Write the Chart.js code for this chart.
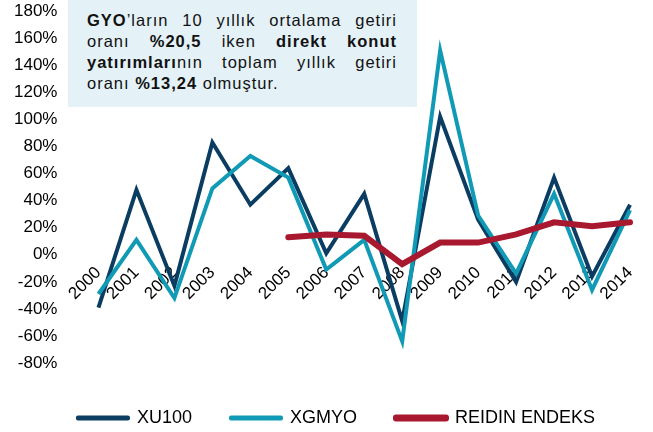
<!DOCTYPE html>
<html>
<head>
<meta charset="utf-8">
<script src="https://cdn.jsdelivr.net/npm/chart.js@4"></script>
<style>
  html, body { margin: 0; padding: 0; background: #fff; }
  #wrap { position: relative; width: 653px; height: 432px; overflow: hidden; }
  #box { position: absolute; left: 0; top: -13px; width: 653px; height: 445px; }
  #note {
    position: absolute; left: 68px; top: 0; width: 349px; height: 107px;
    box-sizing: border-box; padding: 10px 20px 0 19px;
    background: #e4f1f7; color: #111;
    font-family: "Liberation Sans", Arial, sans-serif; font-size: 16.5px; line-height: 21px;
    letter-spacing: 1px;
  }
  #note div { white-space: nowrap; }
  #note .j { text-align: justify; text-align-last: justify; }
</style>
</head>
<body>
<div id="wrap">
  <div id="box"><canvas id="gyoChart"></canvas></div>
  <div id="note">
    <div class="j"><b>GYO</b>’ların 10 yıllık ortalama getiri</div>
    <div class="j">oranı <b>%20,5</b> iken <b>direkt konut</b></div>
    <div class="j"><b>yatırımları</b>nın toplam yıllık getiri</div>
    <div>oranı <b>%13,24</b> olmuştur.</div>
  </div>
</div>
<script>
const years = ['2000', '2001', '2002', '2003', '2004', '2005', '2006', '2007',
    '2008', '2009', '2010', '2011', '2012', '2013', '2014'];
const xu100 = [-39, 48, -23, 83, 37, 64, 1, 45, -49, 102, 26, -20, 57, -16, 37];
const xgmyo = [-29, 11, -32, 49, 73, 57, -11, 11, -64, 151, 29, -14, 45, -26, 33];
const reidin = [null, null, null, null, null, 13, 15, 14, -7, 9, 9, 15, 24, 21, 24];

// move the bottom legend a bit (it sits off centre and low in the original)
const legendShift = {
    id: 'legendShift',
    afterLayout(chart) {
        const lg = chart.legend;
        lg.left += 12; lg.right += 12;
        lg.top += 7; lg.bottom += 7;
    }
};

const ctx = document.getElementById('gyoChart').getContext('2d');

new Chart(ctx, {
    type: 'line',
    data: {
        labels: years,
        datasets: [{
            label: 'XU100',
            data: xu100,
            borderColor: '#0b3d63',
            backgroundColor: '#0b3d63',
            borderWidth: 4,
            order: 2
        }, {
            label: 'XGMYO',
            data: xgmyo,
            borderColor: '#119ab5',
            backgroundColor: '#119ab5',
            borderWidth: 4,
            order: 1
        }, {
            label: 'REIDIN ENDEKS',
            data: reidin,
            borderColor: '#a8192f',
            backgroundColor: '#a8192f',
            borderWidth: 6,
            borderCapStyle: 'round',
            order: 0
        }]
    },
    plugins: [legendShift],
    options: {
        responsive: true,
        maintainAspectRatio: false,
        animation: false,
        layout: {
            padding: { left: 0, right: 4, top: 0, bottom: 2 }
        },
        elements: {
            point: { radius: 0 },
            line: { tension: 0, borderJoinStyle: 'miter' }
        },
        scales: {
            x: {
                position: { y: 0 },
                offset: true,
                grid: { display: false },
                border: { display: false },
                ticks: {
                    maxRotation: 45,
                    minRotation: 45,
                    autoSkip: false,
                    padding: 0,
                    color: '#000',
                    font: { family: 'Liberation Sans', size: 17 }
                }
            },
            y: {
                min: -80,
                max: 180,
                grid: { display: false },
                border: { display: false },
                ticks: {
                    stepSize: 20,
                    padding: 14,
                    color: '#000',
                    font: { family: 'Liberation Sans', size: 17 },
                    callback: (v) => v + '%'
                }
            }
        },
        plugins: {
            tooltip: { enabled: false },
            legend: {
                display: true,
                position: 'bottom',
                labels: {
                    boxWidth: 50,
                    boxHeight: 1,
                    padding: 39,
                    color: '#000',
                    font: { family: 'Liberation Sans', size: 18 },
                    sort: (a, b) => a.datasetIndex - b.datasetIndex,
                    generateLabels: (chart) =>
                        Chart.defaults.plugins.legend.labels.generateLabels(chart).map((l) => ({
                            ...l,
                            lineWidth: l.datasetIndex === 2 ? 6 : 4,
                            lineJoin: 'round'
                        }))
                }
            }
        }
    }
});
</script>
</body>
</html>
